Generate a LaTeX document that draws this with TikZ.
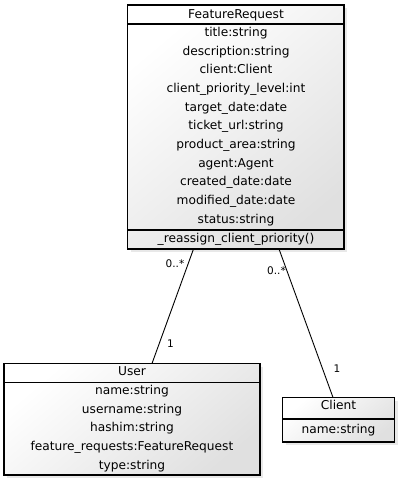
\documentclass[tikz,border=0pt]{standalone}
\usepackage{fontspec}
\setmainfont{DejaVu Sans}
\usetikzlibrary{shadows}
\tikzset{
  classbox/.style={draw=black, line width=1.2pt, inner sep=0pt, outer sep=0pt, anchor=north west,
    top color=white, bottom color=gray!24, shading angle=40,
    drop shadow={shadow xshift=3pt, shadow yshift=-3pt, fill=gray!60, opacity=0.3}},
  sep/.style={draw=black, line width=1.2pt},
  row/.style={inner sep=0pt, text height=9pt, text depth=2.5pt, font=\fontsize{12.2}{14}\selectfont},
  mult/.style={inner sep=0pt, font=\fontsize{10.5}{12}\selectfont},
  assoc/.style={draw=black, line width=0.9pt}
}
\begin{document}
\begin{tikzpicture}[x=1pt, y=-1pt]
\useasboundingbox (0,0) rectangle (404,482);
% FeatureRequest
\node[classbox, minimum width=216.5pt, minimum height=244pt] (fr) at (127.5,5) {};
\draw[sep] (127.5,24) -- (344,24);
\draw[sep] (127.5,230) -- (344,230);
\node[row] (frh) at (236,15) {FeatureRequest};
\node[row] (fr1) at (236,33.2) {title:string};
\node[row] (fr2) at (236,51.9) {description:string};
\node[row] (fr3) at (236,70.6) {client:Client};
\node[row] (fr4) at (236,89.2) {client\_priority\_level:int};
\node[row] (fr5) at (236,107.9) {target\_date:date};
\node[row] (fr6) at (236,126.6) {ticket\_url:string};
\node[row] (fr7) at (236,145.2) {product\_area:string};
\node[row] (fr8) at (236,163.9) {agent:Agent};
\node[row] (fr9) at (236,182.6) {created\_date:date};
\node[row] (fr10) at (236,201.2) {modified\_date:date};
\node[row] (fr11) at (236,219.9) {status:string};
\node[row] (frm) at (236,239.5) {\_reassign\_client\_priority()};
% User
\node[classbox, minimum width=256pt, minimum height=111.5pt] (user) at (4,363.5) {};
\draw[sep] (4,382.5) -- (260,382.5);
\node[row] (uh) at (132,372.5) {User};
\node[row] (u1) at (132,391.3) {name:string};
\node[row] (u2) at (132,409.9) {username:string};
\node[row] (u3) at (132,428.6) {hashim:string};
\node[row] (u4) at (132,447.2) {feature\_requests:FeatureRequest};
\node[row] (u5) at (132,465.9) {type:string};
% Client
\node[classbox, minimum width=112pt, minimum height=44.5pt] (client) at (282.5,397.5) {};
\draw[sep] (282.5,419) -- (394.5,419);
\node[row] (ch) at (338.5,406.5) {Client};
\node[row] (c1) at (338.5,430.5) {name:string};
% associations
\coordinate (frA) at (193.5,249);
\coordinate (userA) at (152,363.5);
\coordinate (frB) at (279,249);
\coordinate (clientB) at (333,397.5);
\draw[assoc] (frA) -- (userA);
\draw[assoc] (frB) -- (clientB);
\node[mult] (m1) at (175,264) {0..*};
\node[mult] (m2) at (170.5,343.5) {1};
\node[mult] (m3) at (276.5,271) {0..*};
\node[mult] (m4) at (337,369) {1};
\end{tikzpicture}
\end{document}
